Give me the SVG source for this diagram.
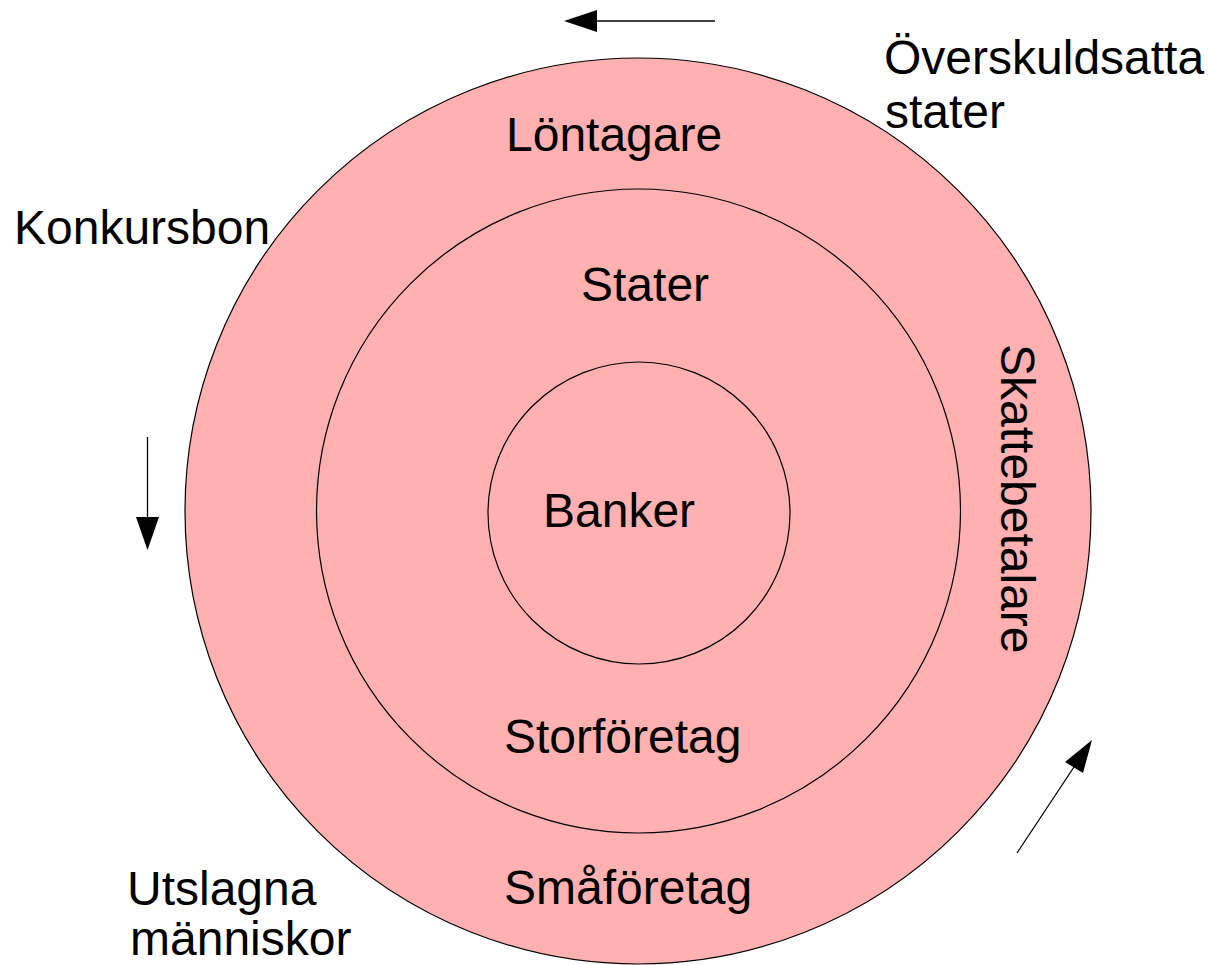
<svg xmlns="http://www.w3.org/2000/svg" width="1208" height="965" viewBox="0 0 1208 965">
<style>
.c{fill:#ffb0b0;stroke:#000;stroke-width:1.2}
.t{font-family:"Liberation Sans",Arial,sans-serif;font-size:48px;fill:#000}
.l{stroke:#000;stroke-width:1.3;fill:none}
.h{fill:#000}
</style>
<rect width="1208" height="965" fill="#fff"/>
<g id="outer"><circle class="c" cx="638" cy="511" r="453"/></g>
<g id="middle"><circle class="c" cx="638.5" cy="511" r="322"/></g>
<g id="inner"><circle class="c" cx="639" cy="513" r="151"/></g>
<g id="labels">
<text class="t" x="506" y="151">Löntagare</text>
<text class="t" x="581" y="301">Stater</text>
<text class="t" x="543" y="527">Banker</text>
<text class="t" x="504" y="753">Storföretag</text>
<text class="t" x="504" y="904">Småföretag</text>
<text class="t" x="14" y="244">Konkursbon</text>
<text class="t" x="884" y="74">Överskuldsatta</text>
<text class="t" x="885" y="128">stater</text>
<text class="t" x="127" y="905">Utslagna</text>
<text class="t" x="130" y="955">människor</text>
<text class="t" transform="translate(1001,344) rotate(90)">Skattebetalare</text>
</g>
<g id="connectors">
<line class="l" x1="715" y1="21" x2="597" y2="21"/>
<polygon class="h" points="564,21 597,10 597,32"/>
<line class="l" x1="147.5" y1="437" x2="147.5" y2="517"/>
<polygon class="h" points="136,517 159,517 147.5,550"/>
<line class="l" x1="1017" y1="853" x2="1074" y2="767"/>
<polygon class="h" points="1092,740 1065,762 1083,773"/>
</g>
</svg>
